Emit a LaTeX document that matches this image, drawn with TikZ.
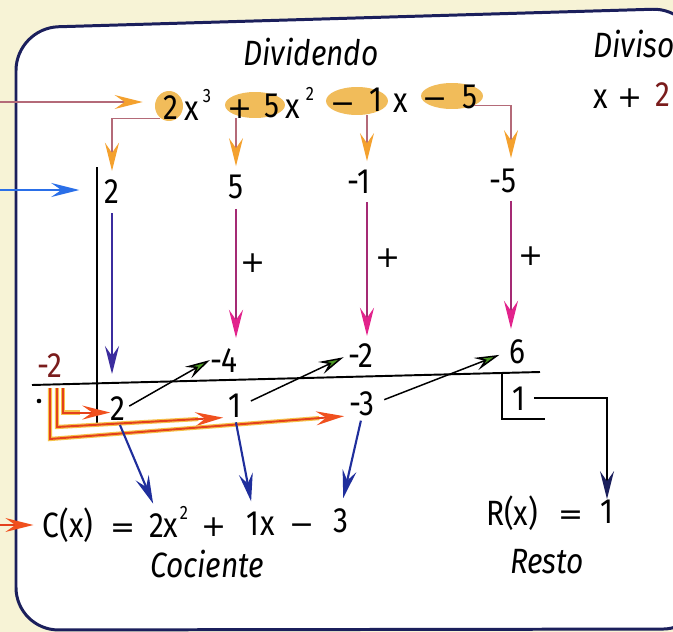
\documentclass[tikz,border=0pt]{standalone}
\usepackage{fontspec}
\setmainfont{Fira Sans}[FakeStretch=0.85]
\newfontfamily\opfont{DejaVu Sans}
\usetikzlibrary{arrows.meta,shapes.geometric,positioning}

\definecolor{fond}{HTML}{F7F3D6}
\definecolor{cadre}{HTML}{1B1F5C}
\definecolor{ovale}{HTML}{F1BC5A}
\definecolor{orangetip}{HTML}{F4A12E}
\definecolor{brun}{HTML}{B46A78}
\definecolor{bleuclair}{HTML}{2A6FE8}
\definecolor{violet}{HTML}{3B2C9E}
\definecolor{rose}{HTML}{A52A74}
\definecolor{rosetip}{HTML}{E2238C}
\definecolor{vert}{HTML}{4C9A22}
\definecolor{rouge}{HTML}{E4401C}
\definecolor{rougetip}{HTML}{F0501E}
\definecolor{jaune}{HTML}{F6C24A}
\definecolor{bleu}{HTML}{1F2E9C}
\definecolor{bordeaux}{HTML}{7A1C1C}

\tikzset{
  num/.style={font=\fontsize{20}{24}\selectfont, inner sep=0pt, anchor=base},
  op/.style={font=\opfont\fontsize{17}{20}\selectfont, inner sep=0pt, anchor=base},
  sup/.style={font=\fontsize{11}{13}\selectfont, inner sep=0pt, anchor=base},
  titre/.style={font=\fontsize{20}{24}\selectfont\itshape, inner sep=0pt, anchor=base},
  ovalnode/.style={ellipse, fill=ovale, inner sep=0pt},
  fleche/.style={line width=0.85pt, -{Stealth[length=5.6mm, width=2.8mm, inset=2mm, color=#1]}},
  flechev/.style={line width=0.85pt, -{Stealth[length=5mm, width=2.6mm, inset=1.8mm, fill=vert]}},
  flecher/.style={fleche=rougetip, rouge, line width=1.1pt,
    preaction={draw=jaune, line width=2.4pt, arrows=-, shorten >=0.6cm}},
  trait/.style={line width=1.1pt}
}

\begin{document}
\begin{tikzpicture}[x=0.02cm, y=-0.02cm]
  \useasboundingbox (0,0) rectangle (673,632);
  % Le fond et le cadre
  \fill[fond] (0,0) rectangle (673,632);
  \draw[cadre, line width=1.7pt, fill=white, rounded corners=0.85cm]
    (705,629) -- (16,630) -- (16,28) -- (695,8) -- (710,320) -- cycle;

  % Les colonnes
  \coordinate (col1) at (112,0);
  \coordinate (col2) at (236,0);
  \coordinate (col3) at (367,0);
  \coordinate (col4) at (511,0);

  % Les ovales du dividende
  \node[ovalnode, minimum width=0.56cm, minimum height=0.6cm] (e1) at (169,106) {};
  \node[ovalnode, minimum width=1.2cm, minimum height=0.52cm] (e2) at (255,105) {};
  \node[ovalnode, minimum width=1.24cm, minimum height=0.56cm] (e3) at (357,101) {};
  \node[ovalnode, minimum width=1.24cm, minimum height=0.52cm] (e4) at (452,96) {};

  % Les titres
  \node[titre] (divd) at (311,65) {Dividendo};
  \node[titre, anchor=base west] (divs) at (593,57) {Diviso};

  % Le dividende (haut)
  \node[num] (t2) at (171,119) {2};
  \node[num] (tx3) at (192,120) {x};
  \node[sup] (s3) at (207,102) {3};
  \node[op] (tp) at (240,118) {+};
  \node[num] (t5) at (272,117) {5};
  \node[num] (tx2) at (293,118) {x};
  \node[sup] (s2) at (310,100) {2};
  \node[op] (tm) at (343,113) {−};
  \node[num] (t1) at (376,111) {1};
  \node[num] (tx1) at (401,112) {x};
  \node[op] (tm2) at (435,108) {−};
  \node[num] (t5b) at (470,108) {5};

  % Le diviseur
  \node[num] (dx) at (601,108) {x};
  \node[op] (dp) at (630,107) {+};
  \node[num, text=bordeaux] (dd) at (663,106) {2};

  % Les coefficients
  \node[num] (b2) at (112,203) {2};
  \node[num] (b5) at (236,198) {5};
  \node[num] (bm1) at (359,193) {-1};
  \node[num] (bm5) at (503,192) {-5};

  % Les signes +
  \node[op, anchor=center] (p1) at (253,263) {+};
  \node[op, anchor=center] (p2) at (388,258) {+};
  \node[op, anchor=center] (p3) at (531,256) {+};

  % Les produits
  \node[num, text=bordeaux] (dv) at (50,377) {-2};
  \node[num] (r4) at (224,372) {-4};
  \node[num] (rm2) at (361,367) {-2};
  \node[num] (r6) at (517,363) {6};

  % Les sommes
  \node[num] (q2) at (118,420) {2};
  \node[num] (q1) at (235,417) {1};
  \node[num] (qm3) at (362,415) {-3};
  \node[num] (rem) at (519,410) {1};
  \fill (39,401) circle (1.3pt);

  % Le quotient et le reste
  \node[num] (ccx) at (68,537) {C(x)};
  \node[op] (ceq) at (123,537) {=};
  \node[num] (c2) at (157,537) {2};
  \node[num] (cx2) at (171,537) {x};
  \node[sup] (cs2) at (184,519) {2};
  \node[op] (cp) at (214,536) {+};
  \node[num] (c1) at (253,535) {1};
  \node[num] (cx1) at (268,535) {x};
  \node[op] (cm) at (302,534) {−};
  \node[num] (c3) at (341,532) {3};
  \node[titre] (coc) at (207,577) {Cociente};
  \node[num] (rx) at (512,525) {R(x)};
  \node[op] (req) at (571,524) {=};
  \node[num] (rone) at (607,523) {1};
  \node[titre] (resto) at (547,573) {Resto};

  % Le tableau
  \draw[trait] (97,167) -- (97,425);
  \draw[trait] (32,385) -- (540,372);
  \draw[trait] (502,373) -- (502,419) -- (545,419);

  % Les flèches d'entrée
  \coordinate (inA) at (0,102);
  \coordinate (inB) at (0,190);
  \coordinate (inC) at (0,525);
  \draw[fleche=orangetip, brun, shorten >=0.24cm] (inA) -- (inA -| e1.west);
  \draw[fleche=bleuclair, bleuclair, line width=1.2pt, shorten >=0.5cm] (inB) -- (inB -| b2.west);
  \draw[fleche=rougetip, rouge, shorten >=0.18cm] (inC) -- (inC -| ccx.west);

  % Descente des coefficients
  \draw[fleche=orangetip, brun, shorten >=0.16cm] (e1.235) -| (b2.north);
  \draw[fleche=orangetip, brun, shorten >=0.16cm] (col2 |- e2.south) -- (col2 |- b5.north);
  \draw[fleche=orangetip, brun, shorten >=0.16cm] (col3 |- e3.south) -- (col3 |- bm1.north);
  \draw[fleche=orangetip, brun, shorten >=0.2cm] (e4.south east) -| (col4 |- bm5.north);

  % Les additions
  \coordinate (pend) at (112,374);
  \draw[fleche=violet, violet, line width=1.1pt, shorten <=0.2cm] (b2.south) -- (pend);
  \draw[fleche=rosetip, rose, shorten <=0.2cm, shorten >=0.2cm] (col2 |- b5.south) -- (col2 |- r4.north);
  \draw[fleche=rosetip, rose, shorten <=0.18cm, shorten >=0.14cm] (col3 |- bm1.south) -- (col3 |- rm2.north);
  \draw[fleche=rosetip, rose, shorten <=0.16cm, shorten >=0.2cm] (col4 |- bm5.south) -- (col4 |- r6.north);

  % Les multiplications
  \draw[flechev, shorten <=0.08cm] (q2.east) -- (r4.west);
  \draw[flechev, shorten <=0.2cm, shorten >=0.1cm] (q1.east) -- (rm2.west);
  \draw[flechev, shorten <=0.2cm, shorten >=0.2cm] (qm3.east) -- (r6.west);

  % Le diviseur -2 qui multiplie
  \coordinate (ra) at (63,388);
  \coordinate (rb) at (57,388);
  \coordinate (rc) at (50,388);
  \draw[flecher] (ra) |- (q2.210);
  \draw[flecher, shorten >=0.1cm] (rb) -- (rb |- 0,427) -- (q1.south west);
  \draw[flecher, shorten >=0.1cm] (rc) -- (rc |- 0,439) -- (qm3.south west);

  % Vers le quotient et le reste
  \draw[fleche=bleu, bleu, line width=1.2pt, shorten <=0.1cm, shorten >=0.2cm] (q2.south) -- (c2.north);
  \draw[fleche=bleu, bleu, line width=1.2pt, shorten <=0.1cm, shorten >=0.2cm] (q1.south) -- (c1.north);
  \draw[fleche=bleu, bleu, line width=1.2pt, shorten <=0.1cm, shorten >=0.2cm] (qm3.south) -- (c3.north);
  \draw[fleche=cadre, line width=1.1pt, shorten <=0.16cm] (rem.east) -| (rone.north);
\end{tikzpicture}
\end{document}
